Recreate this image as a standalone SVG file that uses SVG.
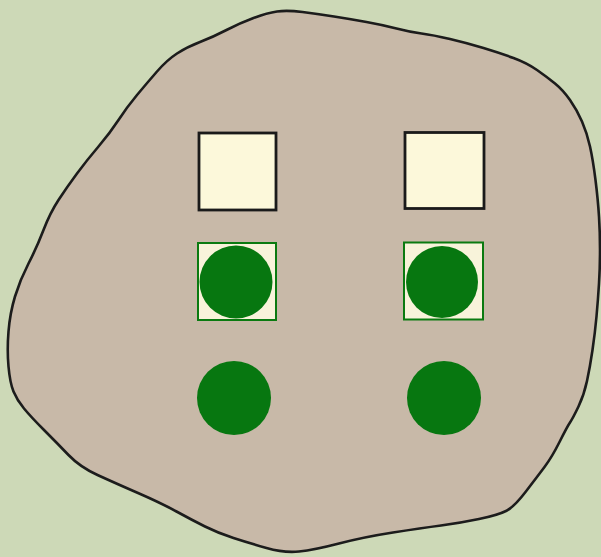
<svg xmlns="http://www.w3.org/2000/svg" width="601" height="557" viewBox="0 0 601 557">
<style>
.bg{fill:#cdd9b7}
.blob{fill:#c8b9a8;stroke:#1c1c1c;stroke-width:2.6;stroke-linejoin:round}
.box{fill:#fcf8da;stroke:#1a1a1a;stroke-width:2.8}
.gbox{fill:#f8f3da;stroke:#0a7a10;stroke-width:2}
.dot{fill:#077710}
</style>
<rect class="bg" x="0" y="0" width="601" height="557"/>
<path id="region" class="blob" d="M277,11.5 Q287,10 302.5,12 Q318,14 334,16.5 Q350,19 366.5,22 Q383,25 396.5,28.5 Q410,32 421.5,33.5 Q433,35 450,39 Q467,43 483.5,48 Q500,53 513.5,58 Q527,63 537,70 Q547,77 555,83.5 Q563,90 570,100 Q577,110 582,121.5 Q587,133 590,146.5 Q593,160 595.5,180 Q598,200 599,216.5 Q600,233 600,250 Q600,267 599,283.5 Q598,300 596.5,316.5 Q595,333 592.5,350 Q590,367 587,381 Q584,395 578.5,406.5 Q573,418 570,422.5 Q567,427 559.5,442 Q552,457 544.5,467 Q537,477 525.5,492 Q514,507 506,511 Q498,515 479,519 Q460,523 441,525.5 Q422,528 393,532.5 Q364,537 339,543.5 Q314,550 299,551.5 Q284,553 266.5,548 Q249,543 233.5,538 Q218,533 205,526.5 Q192,520 176.5,511.5 Q161,503 138,493 Q115,483 97.5,475 Q80,467 68.5,455 Q57,443 44,430 Q31,417 24,408.5 Q17,400 13.5,391.5 Q10,383 8.5,366.5 Q7,350 8.5,331.5 Q10,313 15,296.5 Q20,280 28.5,263.5 Q37,247 43.5,230 Q50,213 58.5,200 Q67,187 77,173.5 Q87,160 98.5,146.5 Q110,133 118.5,120 Q127,107 137,95 Q147,83 157,71.5 Q167,60 177,53.5 Q187,47 200,42 Q213,37 226.5,30 Q240,23 253.5,18 Q267,13 277,11.5 Z"/>
<g id="square-left"><rect class="box" x="199" y="133" width="77" height="77"/></g>
<g id="square-right"><rect class="box" x="405" y="132.5" width="79" height="76"/></g>
<g id="marked-left"><rect class="gbox" x="198" y="243" width="78" height="77"/><circle class="dot" cx="236" cy="282" r="36.5"/></g>
<g id="marked-right"><rect class="gbox" x="404" y="242.5" width="79" height="77"/><circle class="dot" cx="442" cy="282" r="36"/></g>
<g id="dot-left"><circle class="dot" cx="234" cy="398" r="37"/></g>
<g id="dot-right"><circle class="dot" cx="444" cy="398" r="37"/></g>
<g id="connectors"/>
</svg>
